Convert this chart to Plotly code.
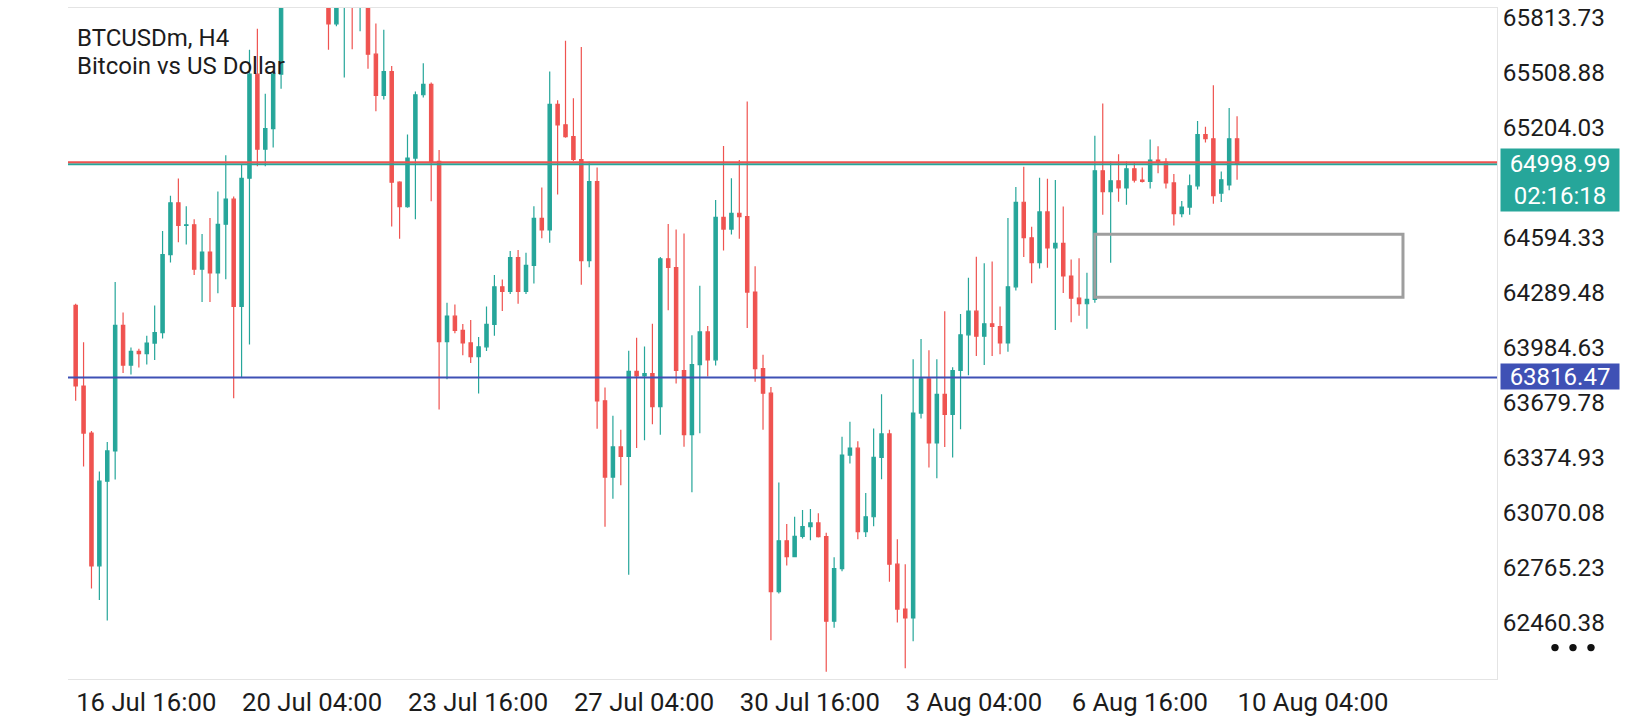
import pandas as pd
import plotly.graph_objects as go

# ---------------- data ----------------
symbol_line = "BTCUSDm, H4"
desc_line = "Bitcoin vs US Dollar"
first_bar = "2024-07-16 16:00"
n_bars = 148

opens = [64217, 63770, 63509, 62773, 63242, 63410, 64106, 63886, 63962, 63950,
         64008, 64066, 64498, 64786, 64660, 64664, 64418, 64513, 64397, 64667,
         64806, 64212, 64922, 65499, 65083, 65197, 65499, 65960, 66120, 66050,
         66180, 66100, 66000, 65778, 65920, 65990, 65930, 65960, 65610, 65381,
         65514, 64900, 64764, 65034, 65385, 65442, 65015, 64016, 64157, 64078,
         64009, 63933, 63987, 64112, 64320, 64294, 64482, 64294, 64439, 64700,
         64635, 65332, 65218, 65153, 65026, 64465, 64903, 63688, 63265, 63432,
         63380, 63851, 63826, 63839, 63656, 64475, 64427, 63856, 63500, 63889,
         64070, 63915, 64705, 64640, 64728, 64709, 64291, 63866, 63730, 62629,
         62912, 62824, 62936, 62990, 63011, 62935, 62466, 62757, 63387, 63425,
         62963, 63045, 63374, 63504, 62782, 62533, 62484, 63620, 63810, 63454,
         63724, 63612, 63856, 64054, 64185, 64046, 64115, 64100, 64009, 64320,
         64789, 64592, 64454, 64735, 64536, 64561, 64380, 64257, 64226, 64250,
         64963, 64847, 64908, 64868, 64974, 64912, 64904, 65023, 65012, 64896,
         64726, 64762, 64880, 65164, 65141, 64840, 64885, 65141]
highs = [64226, 64013, 63520, 63296, 63459, 64347, 64177, 63983, 63977, 64049,
         64217, 64629, 64825, 64921, 64767, 64695, 64613, 64702, 64848, 65050,
         64821, 64999, 65634, 65751, 65390, 65508, 66020, 66200, 66250, 66300,
         66260, 66150, 66060, 66000, 66080, 66040, 66030, 66010, 65780, 65746,
         65544, 64905, 65164, 65403, 65560, 65453, 65078, 64231, 64222, 64114,
         64136, 64042, 64211, 64385, 64361, 64518, 64524, 64509, 64767, 64871,
         65514, 65355, 65685, 65365, 65650, 65014, 64981, 63762, 63605, 63527,
         63965, 64037, 63989, 64115, 64485, 64668, 64638, 64615, 64051, 64326,
         64102, 64802, 65101, 64922, 65023, 65348, 64434, 63943, 63765, 63235,
         63005, 63045, 63083, 63088, 63065, 62956, 62821, 63488, 63572, 63463,
         63177, 63534, 63724, 63528, 62920, 62782, 63919, 64031, 63968, 63919,
         64185, 63874, 64169, 64370, 64487, 64450, 64460, 64211, 64702, 64874,
         64986, 64653, 64925, 64919, 64912, 64766, 64472, 64479, 64398, 65158,
         65336, 65015, 65055, 65015, 65010, 64981, 65137, 65100, 65033, 64946,
         64796, 64943, 65239, 65208, 65437, 64960, 65312, 65266]
lows = [63688, 63324, 62647, 62584, 62470, 63251, 63842, 63834, 63872, 63889,
        63914, 64033, 64455, 64567, 64554, 64385, 64236, 64236, 64284, 64362,
        63702, 63816, 64000, 64988, 64988, 65092, 65418, 65905, 65980, 65990,
        66010, 65920, 65634, 65765, 65480, 65637, 65737, 65529, 65294, 65359,
        64655, 64587, 64758, 64695, 65370, 64794, 63640, 63807, 64063, 63941,
        63897, 63729, 63964, 64049, 64186, 64280, 64226, 64280, 64338, 64589,
        64564, 64832, 65146, 65018, 64332, 64429, 63533, 62990, 63145, 63219,
        62723, 63426, 63469, 63558, 63500, 64190, 63784, 63433, 63181, 63508,
        63822, 63883, 64522, 64610, 64587, 64092, 63794, 63528, 62360, 62620,
        62775, 62820, 62924, 62915, 62930, 62186, 62430, 62743, 63340, 62920,
        62933, 62992, 63253, 62685, 62459, 62205, 62354, 63590, 63318, 63258,
        63432, 63373, 63530, 63829, 63937, 63886, 63937, 63946, 63960, 64300,
        64485, 64340, 64422, 64425, 64080, 64286, 64123, 64159, 64087, 64231,
        64720, 64454, 64791, 64775, 64898, 64898, 64865, 64950, 64865, 64660,
        64706, 64720, 64860, 65120, 64781, 64790, 64856, 64913]
closes = [63770, 63509, 62773, 63242, 63410, 64106, 63886, 63962, 63950, 64008,
          64066, 64498, 64786, 64660, 64664, 64418, 64513, 64397, 64667, 64806,
          64212, 64922, 65499, 65083, 65197, 65499, 65960, 66120, 66050, 66180,
          66100, 66000, 65778, 65920, 65990, 65930, 65960, 65610, 65381, 65514,
          64900, 64764, 65034, 65385, 65442, 65015, 64016, 64157, 64078, 64009,
          63933, 63987, 64112, 64320, 64294, 64482, 64294, 64439, 64700, 64635,
          65332, 65218, 65153, 65026, 64465, 64903, 63688, 63265, 63432, 63380,
          63851, 63826, 63839, 63656, 64475, 64427, 63856, 63500, 63889, 64070,
          63915, 64705, 64640, 64728, 64709, 64291, 63866, 63730, 62629, 62912,
          62824, 62936, 62990, 63011, 62935, 62466, 62757, 63387, 63425, 62963,
          63045, 63374, 63504, 62782, 62533, 62484, 63620, 63810, 63454, 63724,
          63612, 63856, 64054, 64185, 64046, 64115, 64100, 64009, 64320, 64789,
          64592, 64454, 64735, 64536, 64561, 64380, 64257, 64226, 64250, 64963,
          64847, 64908, 64868, 64974, 64912, 64904, 65023, 65012, 64896, 64726,
          64762, 64880, 65164, 65141, 64826, 64913, 65141, 64998.99]

bid_price = 64998.99
ask_price = 65010.0
bar_timer = "02:16:18"
level_price = 63816.47
zone_low, zone_high = 64262, 64612
zone_start_bar = 129
zone_bars_ahead = 21

# 64899.18 sits hidden behind the bid label in the source, so it is not listed
price_ticks = [65813.73, 65508.88, 65204.03, 64594.33, 64289.48,
               63984.63, 63679.78, 63374.93, 63070.08, 62765.23, 62460.38]
price_tick_text = ["65813.73", "65508.88", "65204.03", "64594.33", "64289.48",
                   "63984.63", "63679.78", "63374.93", "63070.08", "62765.23", "62460.38"]
time_tick_text = ["16 Jul 16:00", "20 Jul 04:00", "23 Jul 16:00", "27 Jul 04:00",
                  "30 Jul 16:00", "3 Aug 04:00", "6 Aug 16:00", "10 Aug 04:00"]
time_ticks = [pd.Timestamp(" ".join([t.split(" ")[0], t.split(" ")[1], "2024", t.split(" ")[2]]))
              for t in time_tick_text]

# ---------------- style ----------------
GREEN = "#26a69a"
RED = "#ef5350"
BLUE = "#3f51b5"
GRAY = "#9e9e9e"
TXT = "#1c1c1c"
FONT = "Roboto"

W, H = 1640, 720
ML, MR, MT, MB = 68, 143, 3, 34
PW, PH = W - ML - MR, H - MT - MB

def px(x):
    return (x - ML) / PW

def py(y):
    return (H - MB - y) / PH

times = pd.date_range(first_bar, periods=n_bars, freq="4h")
bar = pd.Timedelta(hours=4)

fig = go.Figure(go.Candlestick(
    x=times, open=opens, high=highs, low=lows, close=closes,
    increasing=dict(line=dict(color=GREEN, width=1.2), fillcolor=GREEN),
    decreasing=dict(line=dict(color=RED, width=1.2), fillcolor=RED),
    showlegend=False, hoverinfo="skip",
))

shapes = [
    dict(type="line", xref="paper", x0=0, x1=1, yref="y", y0=bid_price, y1=bid_price,
         line=dict(color=GREEN, width=2)),
    dict(type="line", xref="paper", x0=0, x1=1, yref="y", y0=ask_price, y1=ask_price,
         line=dict(color=RED, width=2)),
    dict(type="line", xref="paper", x0=0, x1=1, yref="y", y0=level_price, y1=level_price,
         line=dict(color=BLUE, width=2)),
    dict(type="rect", xref="x", yref="y",
         x0=times[zone_start_bar], x1=times[-1] + zone_bars_ahead * bar,
         y0=zone_low, y1=zone_high, line=dict(color=GRAY, width=3), fillcolor="rgba(0,0,0,0)"),
]
for cx in (1555, 1573, 1591):
    r = 3.7
    shapes.append(dict(type="circle", xref="paper", yref="paper",
                       x0=px(cx - r), x1=px(cx + r), y0=py(654 + r), y1=py(654 - r),
                       fillcolor="#111111", line=dict(width=0)))

annotations = [
    dict(text=symbol_line, xref="paper", yref="paper", x=px(75), y=py(33.5),
         xanchor="left", yanchor="middle", showarrow=False,
         font=dict(family=FONT, size=24, color=TXT)),
    dict(text=desc_line, xref="paper", yref="paper", x=px(75), y=py(62),
         xanchor="left", yanchor="middle", showarrow=False,
         font=dict(family=FONT, size=24, color=TXT)),
    dict(text=f"{bid_price:.2f}<br>{bar_timer}", xref="paper", yref="y",
         x=px(1500), y=bid_price, xanchor="left", yanchor="top", yshift=16.5,
         showarrow=False, bgcolor=GREEN, width=118, height=62, borderpad=0,
         align="center", valign="middle",
         font=dict(family=FONT, size=24, color="white")),
    dict(text=f"{level_price:.2f}", xref="paper", yref="y",
         x=px(1500), y=level_price, xanchor="left", yanchor="middle", yshift=1.5,
         showarrow=False, bgcolor=BLUE, width=118, height=25, borderpad=0,
         align="center", valign="middle",
         font=dict(family=FONT, size=24, color="white")),
]

fig.update_layout(
    width=W, height=H,
    margin=dict(l=ML, r=MR, t=MT, b=MB, pad=0),
    paper_bgcolor="white", plot_bgcolor="white",
    font=dict(family=FONT, size=24, color=TXT),
    boxgap=0.4, boxgroupgap=0.3,
    shapes=shapes, annotations=annotations,
    xaxis=dict(
        type="date",
        range=[times[0] - 0.97 * bar, times[-1] + 32.9 * bar],
        rangeslider=dict(visible=False),
        showgrid=False, zeroline=False,
        tickvals=time_ticks, ticktext=time_tick_text, ticks="",
        ticklabelposition="outside right",
        ticklabeloverflow="allow",
        tickfont=dict(family=FONT, size=25.7, color=TXT),
        showline=True, linecolor="#e4e4e4", linewidth=1, mirror=True,
        fixedrange=True,
    ),
    yaxis=dict(
        side="right",
        range=[62145.3, 65866.0],
        showgrid=False, zeroline=False,
        tickvals=price_ticks, ticktext=price_tick_text, ticks="",
        ticklabelstandoff=0,
        ticklabeloverflow="allow",
        tickfont=dict(family=FONT, size=24.3, color=TXT),
        showline=True, linecolor="#e4e4e4", linewidth=1,
        fixedrange=True,
    ),
)

fig.write_html("out.html", config={"displayModeBar": False},
               post_script="document.body.style.margin='0';document.body.style.overflow='hidden';")
